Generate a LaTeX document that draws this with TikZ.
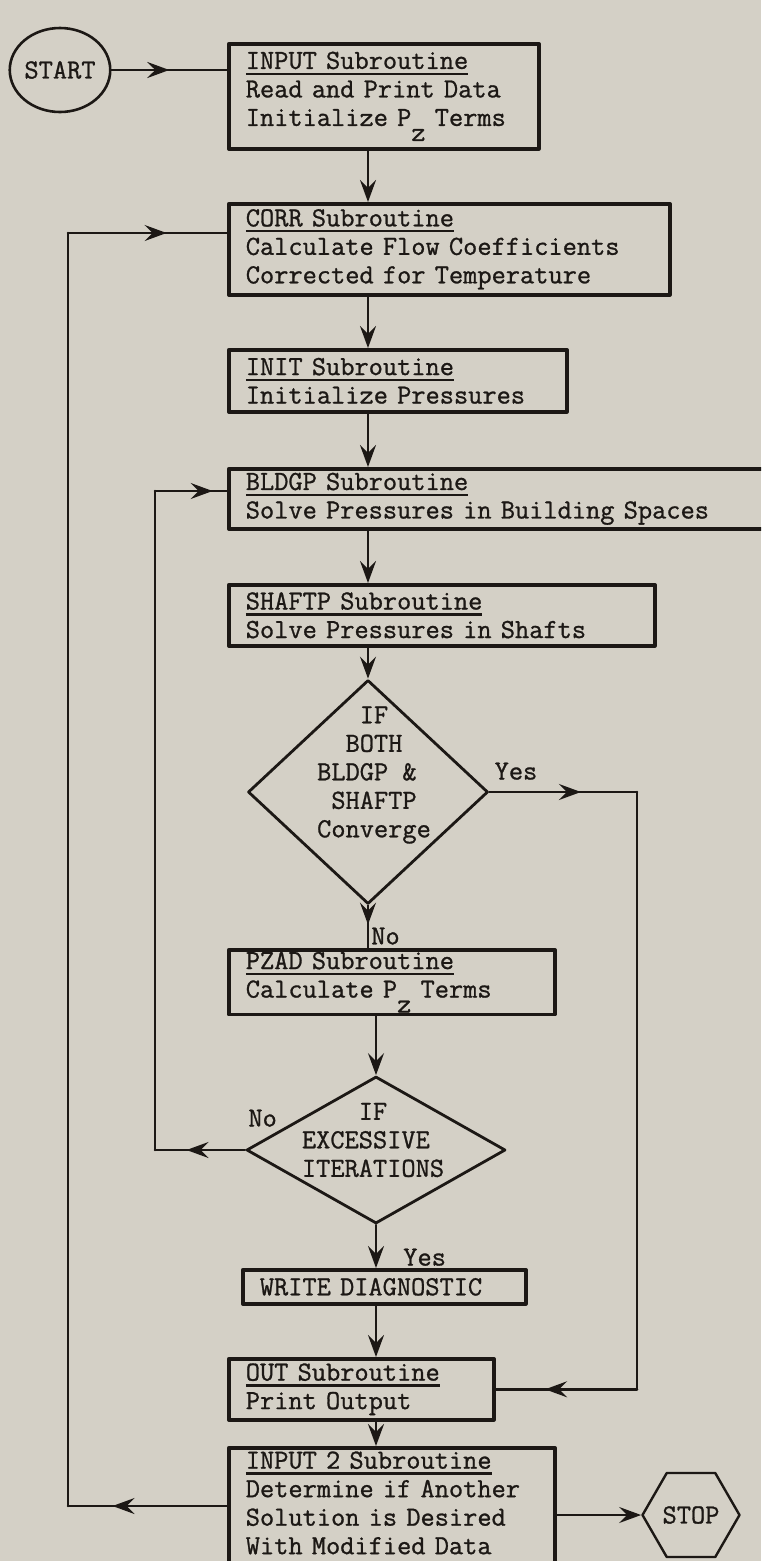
\documentclass[tikz,border=0pt]{standalone}
\usepackage{fontspec}
\usepackage{xcolor}
\usetikzlibrary{positioning, arrows.meta, shapes.geometric, decorations.markings}

\newfontfamily\typer{Latin Modern Mono}[FakeBold=1]

\definecolor{paper}{RGB}{212,208,198}
\definecolor{ink}{RGB}{28,24,21}

\newsavebox{\headbox}
\newcommand{\subhead}[1]{\leavevmode\sbox{\headbox}{#1}\rlap{\rule[-6pt]{\wd\headbox}{2.4pt}}\usebox{\headbox}}
\newcommand{\pz}{P\raisebox{-15pt}{z}}

\begin{document}
\begin{tikzpicture}[x=1pt, y=-1pt, line join=round, line cap=round, color=ink,
    font=\typer\fontsize{27.6}{28.5}\selectfont,
    subbox/.style={draw, line width=3.6pt, anchor=north west, align=left,
      inner xsep=17pt, inner ysep=2pt, text width=#1},
    decision/.style={draw, line width=2.8pt, shape=diamond, inner sep=0pt},
    flow/.style={line width=2.6pt},
    arrowed/.style={-{Stealth[length=22pt, width=16pt, inset=8pt]}},
    midtip/.style={postaction={decorate}, decoration={markings,
      mark=at position #1 with {\arrow{Stealth[length=22pt, width=16pt, inset=8pt]}}}},
    lbl/.style={inner sep=2pt}]

    \useasboundingbox (0,0) rectangle (761,1561);
    \clip (0,0) rectangle (761,1561);
    \fill[paper] (0,0) rectangle (761,1561);

    % Start and first boxes
    \node[draw, line width=2.6pt, shape=ellipse, minimum width=100pt, minimum height=84pt, inner sep=0pt] (start) at (60,70) {START};
    \node[subbox=276pt, minimum height=105pt] (input) at (227,42) {\subhead{INPUT Subroutine}\\Read and Print Data\\Initialize \pz{} Terms};
    \node[subbox=407pt, minimum height=91pt] (corr) at (227,202) {\subhead{CORR Subroutine}\\Calculate Flow Coefficients\\Corrected for Temperature};
    \node[subbox=304pt, minimum height=62pt] (init) at (227,348) {\subhead{INIT Subroutine}\\Initialize Pressures};
    \node[subbox=539pt, minimum height=60pt] (bldgp) at (227,467) {\subhead{BLDGP Subroutine}\\Solve Pressures in Building Spaces};
    \node[subbox=392pt, minimum height=61pt] (shaftp) at (227,583) {\subhead{SHAFTP Subroutine}\\Solve Pressures in Shafts};

    % Convergence test
    \node[decision, minimum width=240pt, minimum height=224pt] (conv) at (368,792) {};
    \node[lbl, align=center] (convtext) at (374,775) {IF\\BOTH\\BLDGP \&\hphantom{x}\\SHAFTP\\Converge};

    \node[subbox=292pt, minimum height=64pt] (pzad) at (227,948) {\subhead{PZAD Subroutine}\\Calculate \pz{} Terms};

    % Iteration test
    \node[decision, minimum width=259pt, minimum height=147pt] (iter) at (376,1150) {};
    \node[lbl, align=center] (itertext) at (373,1140) {IF\\EXCESSIVE\hphantom{x}\\ITERATIONS};

    \node[subbox=249pt, minimum height=34pt] (write) at (241,1268) {WRITE DIAGNOSTIC};
    \node[subbox=231pt, minimum height=61pt] (out) at (227,1357) {\subhead{OUT Subroutine}\\Print Output};
    \node[subbox=292pt, minimum height=120pt] (input2) at (227,1446) {\subhead{INPUT 2 Subroutine}\\Determine if Another\\Solution is Desired\\With Modified Data\rule[-10pt]{0pt}{1pt}};
    \node[draw, line width=2.4pt, regular polygon, regular polygon sides=6, minimum size=97pt, inner sep=0pt] (stop) at (691,1515) {STOP};

    % Corner points of the loops
    \coordinate (yesR) at (637,792);
    \coordinate (innerB) at (155,1150);
    \coordinate (innerT) at (155,491);
    \coordinate (outerB) at (68,1506);
    \coordinate (outerT) at (68,233);

    % Main line
    \draw[flow, midtip=0.5] (start.east) -- (input.west |- start.east);
    \draw[flow, arrowed] (input.south -| conv.north) -- (corr.north -| conv.north);
    \draw[flow, arrowed] (corr.south -| conv.north) -- (init.north -| conv.north);
    \draw[flow, arrowed] (init.south -| conv.north) -- (bldgp.north -| conv.north);
    \draw[flow, arrowed] (bldgp.south -| conv.north) -- (shaftp.north -| conv.north);
    \draw[flow, arrowed] (shaftp.south -| conv.north) -- (conv.north);
    \draw[flow, midtip=0.45] (conv.south) -- node[lbl, pos=0.72, anchor=west] {No} (pzad.north -| conv.south);
    \draw[flow, arrowed] (pzad.south -| iter.north) -- (iter.north);
    \draw[flow, arrowed] (iter.south) -- node[lbl, pos=0.75, anchor=west, xshift=24pt] {Yes} (write.north -| iter.south);
    \draw[flow, arrowed] (write.south -| iter.south) -- (out.north -| iter.south);
    \draw[flow, arrowed] (out.south -| iter.south) -- (input2.north -| iter.south);
    \draw[flow, arrowed] (input2.east |- stop.west) -- (stop.west);

    % Yes branch to OUT
    \draw[flow, midtip=0.62] (conv.east) -- node[lbl, pos=0.18, above=9pt] {Yes} (yesR);
    \draw[flow] (yesR) -- (yesR |- out.east);
    \draw[flow, midtip=0.65] (yesR |- out.east) -- (out.east);

    % Inner loop back to BLDGP
    \draw[flow, midtip=0.65] (iter.west) -- node[lbl, pos=0, anchor=south west, yshift=20pt] {No} (innerB);
    \draw[flow] (innerB) -- (innerT);
    \draw[flow, midtip=0.8] (innerT) -- (bldgp.west |- innerT);

    % Outer loop back to CORR
    \draw[flow, midtip=0.72] (input2.west |- outerB) -- (outerB);
    \draw[flow] (outerB) -- (outerT);
    \draw[flow, midtip=0.62] (outerT) -- (corr.west |- outerT);
\end{tikzpicture}
\end{document}
